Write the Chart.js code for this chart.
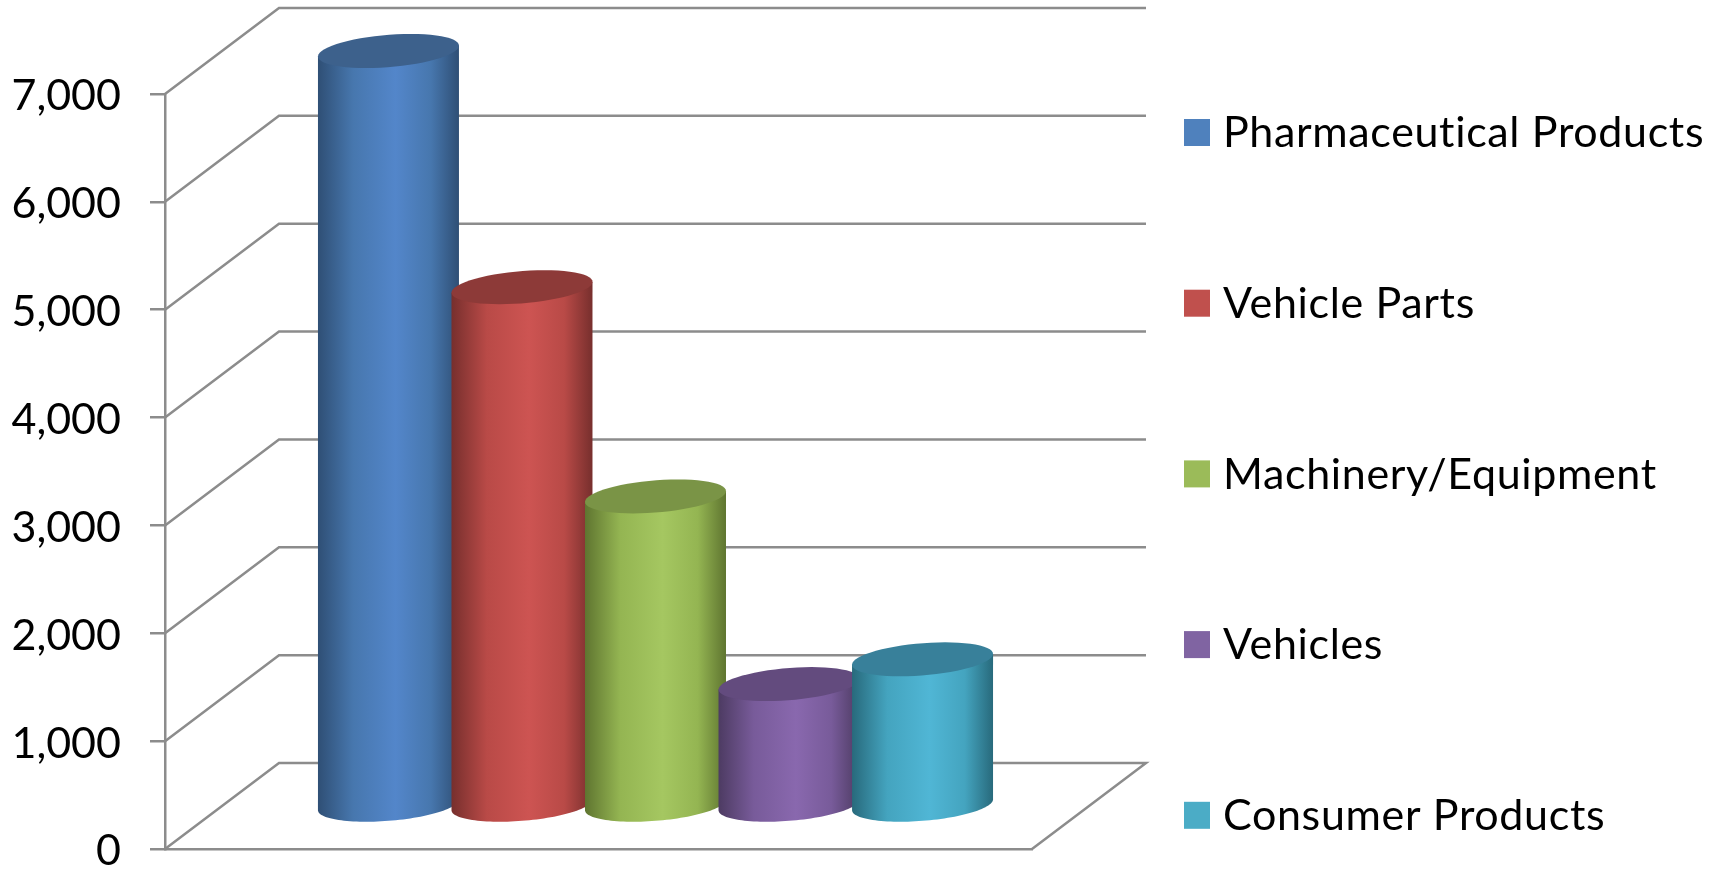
<!DOCTYPE html>
<html>
<head>
<meta charset="utf-8">
<script src="https://cdn.jsdelivr.net/npm/chart.js@4"></script>
<style>
    body { margin: 0; background: #fff; }
    canvas { display: block; }
</style>
</head>
<body>
<canvas id="exportChart" width="1727" height="869"></canvas>
<script>
// Values
const categories = [''];
const seriesNames = ['Pharmaceutical Products', 'Vehicle Parts', 'Machinery/Equipment', 'Vehicles', 'Consumer Products'];
const seriesValues = [7000, 4810, 2870, 1130, 1360];
const tickValues = [0, 1000, 2000, 3000, 4000, 5000, 6000, 7000];

// Colours of the cylinders: edge of the side, middle of the side, brightest stripe, top, legend box
const edgeColors = ['#2f4f75', '#772f2d', '#5f7530', '#4d3b62', '#286a7c'];
const sideColors = ['#4777ae', '#b94a47', '#94b552', '#785b9a', '#44a4bf'];
const lightColors = ['#5386ca', '#cd5452', '#a5c761', '#8968ae', '#50b6d5'];
const topColors = ['#3d618c', '#8d3a38', '#7a9446', '#634b7e', '#38809a'];
const legendColors = ['#4f81bd', '#c0504d', '#9bbb59', '#8064a2', '#4bacc6'];

const gridColor = '#8c8c8c';
const fontName = 'Lato, Carlito, sans-serif';

// The box of the 3D chart goes this far back and up from the front axes
const wallDx = 114;
const wallDy = 86;
const ellipseRy = 17;

// Floor and back wall lines, one for each tick
function drawWalls(chart) {
    const ctx = chart.ctx;
    const area = chart.chartArea;
    const yScale = chart.scales.y;
    ctx.save();
    ctx.strokeStyle = gridColor;
    ctx.lineWidth = 2.5;
    tickValues.forEach(value => {
        const y = yScale.getPixelForValue(value);
        ctx.beginPath();
        ctx.moveTo(area.left, y);
        ctx.lineTo(area.left + wallDx, y - wallDy);
        ctx.lineTo(area.right + wallDx, y - wallDy);
        if (value === 0) {
            ctx.lineTo(area.right, y);
        }
        ctx.stroke();
    });
    ctx.restore();
}

// The bars stand in the middle of the floor, so they are moved half of the depth
function drawCylinder(ctx, bar, index) {
    const cx = bar.x + wallDx / 2;
    const topY = bar.y - wallDy / 2;
    const baseY = bar.base - wallDy / 2;
    const halfWidth = bar.width / 2;

    // circle on the sheared floor, px is how far its back is pushed to the right
    const px = ellipseRy * wallDx / wallDy;
    const r = Math.sqrt(halfWidth * halfWidth - px * px);
    const pointAt = (y, t) => [cx + r * Math.cos(t) + px * Math.sin(t), y - ellipseRy * Math.sin(t)];
    const t0 = Math.atan2(px, r);
    const steps = 60;

    const gradient = ctx.createLinearGradient(cx - halfWidth, 0, cx + halfWidth, 0);
    gradient.addColorStop(0, edgeColors[index]);
    gradient.addColorStop(0.25, sideColors[index]);
    gradient.addColorStop(0.55, lightColors[index]);
    gradient.addColorStop(0.8, sideColors[index]);
    gradient.addColorStop(1, edgeColors[index]);

    ctx.beginPath();
    ctx.moveTo(...pointAt(topY, t0));
    for (let i = 0; i <= steps; i++) {
        ctx.lineTo(...pointAt(baseY, t0 - Math.PI * i / steps));
    }
    ctx.lineTo(...pointAt(topY, t0 - Math.PI));
    ctx.closePath();
    ctx.fillStyle = gradient;
    ctx.fill();

    ctx.beginPath();
    for (let i = 0; i <= steps; i++) {
        ctx.lineTo(...pointAt(topY, 2 * Math.PI * i / steps));
    }
    ctx.closePath();
    ctx.fillStyle = topColors[index];
    ctx.fill();
}

const cylinderPlugin = {
    id: 'cylinders',
    beforeDatasetsDraw(chart) {
        drawWalls(chart);
        chart.data.datasets.forEach((dataset, i) => {
            drawCylinder(chart.ctx, chart.getDatasetMeta(i).data[0], i);
        });
        return false; // the flat bars are not wanted
    },
    afterDraw(chart) {
        // the built-in legend wraps into columns with gaps this large
        const ctx = chart.ctx;
        ctx.save();
        ctx.font = '43px ' + fontName;
        ctx.letterSpacing = '0.65px';
        ctx.textBaseline = 'middle';
        ctx.textAlign = 'left';
        chart.data.datasets.forEach((dataset, i) => {
            const y = 132.5 + i * 170.7;
            ctx.fillStyle = legendColors[i];
            ctx.fillRect(1184, y - 13.5, 26, 27);
            ctx.fillStyle = '#000';
            ctx.fillText(dataset.label, 1223, y + 1);
        });
        ctx.restore();
    }
};

const chartData = {
    labels: categories,
    datasets: seriesNames.map((name, i) => ({
        label: name,
        data: [seriesValues[i]],
        backgroundColor: legendColors[i],
    })),
};

const chartConfig = {
    type: 'bar',
    data: chartData,
    plugins: [cylinderPlugin],
    options: {
        responsive: false,
        animation: false,
        layout: {
            padding: { top: 94, right: 695, bottom: 20, left: 0 },
        },
        datasets: {
            bar: {
                categoryPercentage: 0.77,
                barPercentage: 1.056,
            },
        },
        plugins: {
            legend: { display: false },
            tooltip: { enabled: false },
        },
        scales: {
            x: {
                afterFit(scale) {
                    scale.height = 0;
                    scale.paddingLeft = 0;
                    scale.paddingRight = 0;
                },
                ticks: { display: false },
                grid: { display: false, drawTicks: false },
                border: { display: true, color: gridColor, width: 2.5 },
            },
            y: {
                min: 0,
                max: 7000,
                afterFit(scale) {
                    // no extra room for the half labels, the padding above sets the plot box
                    scale.width = 165;
                    scale.paddingTop = 0;
                    scale.paddingBottom = 0;
                    // the labels sit a little under their tick marks
                    const drawLabels = scale.drawLabels;
                    scale.drawLabels = function (area) {
                        this.ctx.save();
                        this.ctx.translate(0, 2.5);
                        drawLabels.call(this, area);
                        this.ctx.restore();
                    };
                },
                ticks: {
                    stepSize: 1000,
                    padding: 29,
                    color: '#000',
                    font: { family: fontName, size: 43 },
                    callback: value => value.toLocaleString('en-US'),
                },
                grid: {
                    drawOnChartArea: false,
                    color: gridColor,
                    lineWidth: 2.5,
                    tickLength: 15,
                },
                border: { display: true, color: gridColor, width: 2.5 },
            },
        },
    },
};

new Chart(document.getElementById('exportChart').getContext('2d'), chartConfig);
</script>
</body>
</html>
